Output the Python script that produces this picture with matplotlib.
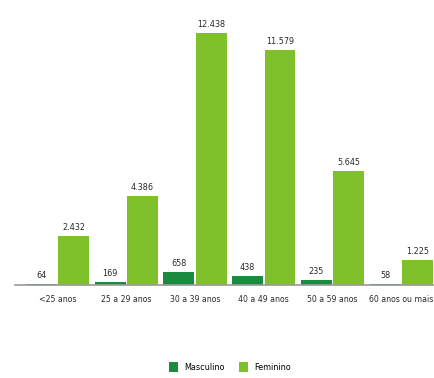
import matplotlib
matplotlib.use("Agg")
import matplotlib.pyplot as plt
import numpy as np

categories = ["<25 anos", "25 a 29 anos", "30 a 39 anos", "40 a 49 anos", "50 a 59 anos", "60 anos ou mais"]
masculino = [64, 169, 658, 438, 235, 58]
feminino = [2432, 4386, 12438, 11579, 5645, 1225]
series_names = ["Masculino", "Feminino"]

plt.rcParams['font.family'] = ['DejaVu Sans']
plt.rcParams['font.stretch'] = 'condensed'

def fmt(v):
    return f"{v:,}".replace(",", ".")

fig = plt.figure(figsize=(4.35, 3.78), dpi=100)
ax = fig.add_axes([15/435, 1-285/378, 420/435, (285-21.6)/378])
x = np.arange(len(categories))
w = 0.45
c_m = "#1a8c3e"
c_f = "#7fc12b"
b1 = ax.bar(x - 0.235, masculino, w, color=c_m, label=series_names[0])
b2 = ax.bar(x + 0.235, feminino, w, color=c_f, label=series_names[1])
for rect, v in list(zip(b1, masculino)) + list(zip(b2, feminino)):
    ax.text(rect.get_x() + rect.get_width()/2, v + 200, fmt(v), ha="center", va="bottom",
            fontsize=6.5, color="#2a2a2a")
ax.set_xlim(-0.62, 5.49)
ax.set_ylim(0, 13000)
ax.set_xticks(x)
ax.set_xticklabels(categories, fontsize=6.2, color="#2a2a2a")
ax.tick_params(axis="x", length=0, pad=7)
ax.set_yticks([])
for s in ["top", "right", "left"]:
    ax.spines[s].set_visible(False)
ax.spines["bottom"].set_color("#999999")
ax.spines["bottom"].set_linewidth(1.2)
fig.legend(handles=[b1, b2], labels=series_names, loc="center", bbox_to_anchor=(230/435, 1-367/378),
           ncol=2, frameon=False, fontsize=6.5, handlelength=1.0, handleheight=1.4, columnspacing=1.6,
           handletextpad=0.7)
fig.savefig("out.png", dpi=100)
